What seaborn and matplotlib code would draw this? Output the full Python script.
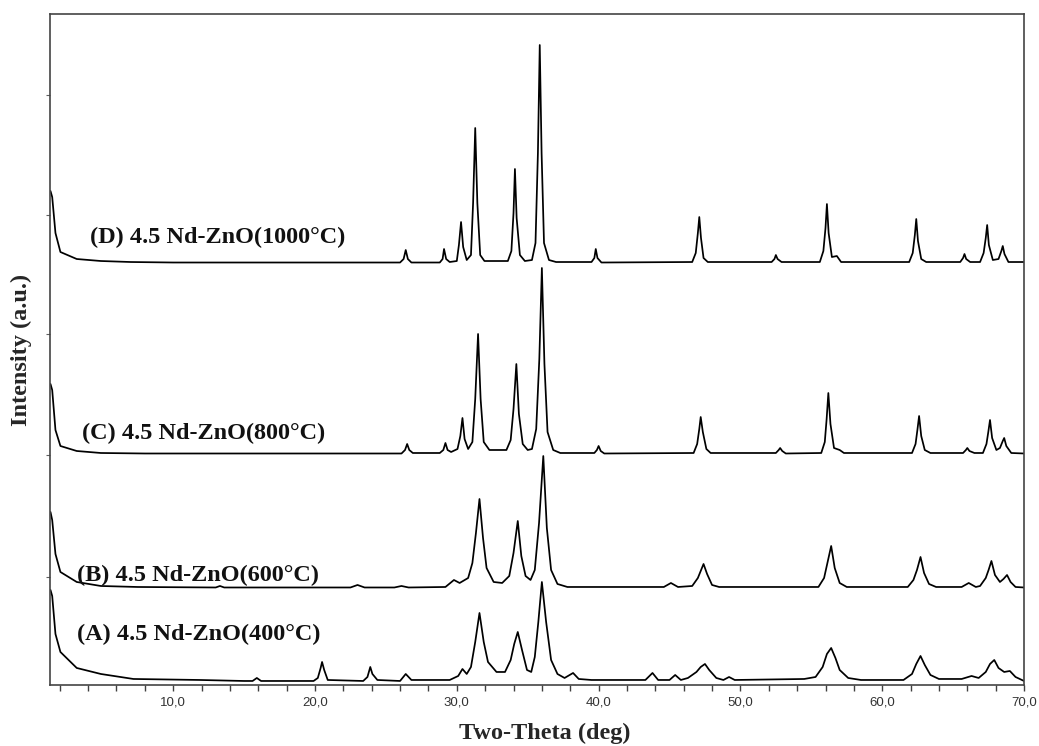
import numpy as np
import pandas as pd
import seaborn as sns
from matplotlib import pyplot as plt
from matplotlib.ticker import MultipleLocator, FuncFormatter

# traced XRD patterns: 2-theta (deg) and intensity above each trace's own baseline (a.u.)
tt_D = [1.35, 1.47, 1.7, 2.05, 3.2, 4.9, 7.0, 10, 26.0, 26.25, 26.4, 26.55, 26.8, 28.8, 29.0, 29.1, 29.25,
        29.5, 30.0, 30.15, 30.3, 30.45, 30.7, 31.0, 31.15, 31.3, 31.45, 31.65, 31.95, 33.6, 33.85, 34.0, 34.1,
        34.22, 34.45, 34.8, 35.3, 35.55, 35.72, 35.85, 35.98, 36.15, 36.5, 37.0, 39.5, 39.7, 39.8, 39.92, 40.2,
        46.6, 46.85, 47.0, 47.1, 47.22, 47.4, 47.7, 52.2, 52.4, 52.5, 52.62, 52.9, 55.6, 55.85, 56.0, 56.1,
        56.22, 56.45, 56.8, 57.1, 61.9, 62.15, 62.3, 62.4, 62.52, 62.75, 63.1, 65.5, 65.7, 65.8, 65.92, 66.2,
        66.9, 67.15, 67.3, 67.4, 67.52, 67.8, 68.2, 68.4, 68.5, 68.62, 68.9, 70.0]
int_D = [72, 66, 30, 11, 4, 2, 1, 0.5, 0.5, 4, 13, 4, 0.5, 0.5, 4, 14, 4,
         1, 2, 18, 41, 16, 3, 8, 60, 135, 60, 8, 2, 2, 12, 50, 94,
         45, 8, 2, 3, 20, 110, 218, 110, 20, 3, 1, 1, 5, 14, 5, 0.5,
         1, 10, 30, 46, 25, 5, 1, 1, 4, 8, 4, 1, 1, 12, 35, 59,
         30, 6, 7, 1, 1, 10, 28, 44, 22, 4, 1, 1, 5, 9, 4, 1,
         1, 10, 25, 38, 18, 3, 4, 12, 17, 9, 1, 1]

tt_C = [1.35, 1.47, 1.7, 2.05, 3.2, 4.9, 8, 26.1, 26.35, 26.5, 26.65, 26.9, 28.8, 29.05, 29.2, 29.35, 29.6,
        30.05, 30.25, 30.4, 30.55, 30.8, 31.1, 31.3, 31.5, 31.68, 31.9, 32.3, 33.5, 33.8, 34.0, 34.2, 34.38,
        34.65, 35.0, 35.3, 35.6, 35.82, 36.0, 36.18, 36.4, 36.8, 37.3, 39.7, 39.88, 40.0, 40.15, 40.4, 46.7,
        46.95, 47.1, 47.2, 47.35, 47.6, 47.9, 52.5, 52.7, 52.8, 52.95, 53.2, 55.7, 55.95, 56.08, 56.2, 56.35,
        56.6, 57.0, 57.3, 62.1, 62.35, 62.48, 62.6, 62.75, 63.0, 63.4, 65.7, 65.9, 66.0, 66.15, 66.5, 67.1,
        67.35, 67.48, 67.6, 67.75, 68.05, 68.3, 68.5, 68.6, 68.75, 69.1, 70.0]
int_C = [70, 64, 24, 8, 3, 1, 0.5, 0.5, 4, 10, 4, 1, 1, 4, 11, 4, 2,
         5, 18, 36, 15, 5, 12, 55, 120, 55, 12, 4, 4, 14, 45, 90, 40,
         10, 4, 5, 25, 95, 186, 90, 22, 4, 1, 1, 4, 8, 3, 0.5, 1,
         10, 25, 37, 22, 5, 1, 1, 4, 6, 3, 0.5, 1, 12, 35, 61, 30,
         6, 4, 1, 1, 10, 24, 38, 18, 4, 1, 1, 4, 6, 3, 1, 1,
         10, 22, 34, 16, 4, 6, 13, 16, 8, 1, 0.5]

tt_B = [1.35, 1.47, 1.7, 2.05, 3.2, 4.9, 7.5, 13.0, 13.3, 13.6, 22.5, 23.0, 23.5, 25.6, 26.1, 26.6, 29.2,
        29.8, 30.2, 30.8, 31.1, 31.35, 31.6, 31.85, 32.1, 32.6, 33.2, 33.7, 34.0, 34.3, 34.55, 34.85, 35.2,
        35.5, 35.8, 36.1, 36.35, 36.65, 37.1, 37.8, 44.6, 45.1, 45.6, 46.6, 47.0, 47.2, 47.4, 47.65, 48.0,
        48.5, 55.5, 55.9, 56.15, 56.4, 56.65, 57.0, 57.5, 61.8, 62.2, 62.45, 62.7, 62.95, 63.3, 63.8, 65.6,
        66.1, 66.6, 66.9, 67.3, 67.5, 67.7, 67.95, 68.3, 68.55, 68.8, 69.05, 69.4, 70.0]
int_B = [76, 68, 34, 16, 6, 2, 1, 0.5, 2, 0.5, 0.5, 3, 0.5, 0.5, 2, 0.5, 1,
         8, 5, 10, 25, 55, 89, 50, 20, 6, 5, 12, 35, 67, 32, 12, 8,
         18, 65, 132, 60, 18, 4, 1, 1, 5, 1, 2, 10, 17, 24, 14, 3,
         1, 1, 10, 26, 42, 20, 5, 1, 1, 8, 18, 31, 15, 4, 1, 1,
         5, 1, 2, 10, 18, 27, 13, 6, 9, 13, 6, 1, 0.5]

tt_A = [1.35, 1.47, 1.7, 2.05, 3.2, 4.9, 7.2, 11.9, 15.0, 15.6, 15.9, 16.2, 19.9, 20.2, 20.4, 20.5, 20.65,
        20.9, 23.4, 23.7, 23.9, 24.05, 24.4, 26.0, 26.4, 26.8, 29.5, 30.1, 30.4, 30.7, 31.0, 31.3, 31.6,
        31.9, 32.2, 32.8, 33.4, 33.8, 34.05, 34.3, 34.6, 34.95, 35.25, 35.5, 35.75, 36.0, 36.3, 36.65, 37.1,
        37.6, 38.2, 38.6, 39.5, 43.3, 43.8, 44.2, 45.0, 45.4, 45.8, 46.3, 46.9, 47.2, 47.5, 47.8, 48.3,
        48.8, 49.2, 49.6, 54.5, 55.3, 55.8, 56.1, 56.4, 56.7, 57.0, 57.6, 58.5, 61.5, 62.1, 62.4, 62.7,
        63.0, 63.4, 64.0, 65.6, 66.3, 66.8, 67.3, 67.6, 67.9, 68.2, 68.6, 69.0, 69.4, 70.0]
int_A = [92, 86, 48, 30, 14, 8, 3, 2, 1, 1, 4, 1, 1, 4, 14, 20, 12,
         2, 1, 5, 15, 8, 2, 1, 8, 2, 2, 6, 13, 8, 15, 40, 69,
         40, 20, 10, 10, 22, 38, 50, 32, 12, 10, 25, 60, 100, 60, 22, 8,
         4, 9, 3, 2, 2, 9, 2, 2, 7, 2, 4, 10, 15, 18, 12, 4,
         2, 5, 2, 3, 5, 15, 28, 34, 24, 12, 4, 2, 2, 8, 18, 26,
         17, 7, 3, 3, 6, 4, 10, 18, 22, 14, 10, 11, 5, 1]

samples = ['A', 'B', 'C', 'D']
labels = ['(A) 4.5 Nd-ZnO(400°C)', '(B) 4.5 Nd-ZnO(600°C)',
          '(C) 4.5 Nd-ZnO(800°C)', '(D) 4.5 Nd-ZnO(1000°C)']
offsets = [3, 97, 231, 422]
label_x = [3.2, 3.2, 3.6, 4.15]
label_y = [51, 110, 252, 448]

frames = []
for s, tt, it, off in zip(samples, [tt_A, tt_B, tt_C, tt_D], [int_A, int_B, int_C, int_D], offsets):
    frames.append(pd.DataFrame({'two_theta': tt, 'intensity': np.array(it) + off, 'sample': s}))
df = pd.concat(frames, ignore_index=True)

sns.set_style('ticks')
plt.rcParams['font.family'] = ['Liberation Sans', 'DejaVu Sans']

fig = plt.figure(figsize=(10.39, 7.46), dpi=100)
ax = fig.add_axes([0.0486, 0.0818, 0.937, 0.8994])

for s in samples:
    sns.lineplot(data=df[df['sample'] == s], x='two_theta', y='intensity', ax=ax,
                 color='black', linewidth=1.25, sort=False, estimator=None)

for lab, lx, ly in zip(labels, label_x, label_y):
    ax.text(lx, ly, lab, fontsize=17.5, fontweight='bold', family='Liberation Serif',
            va='center', ha='left', color='#111111')

ax.set_xlim(1.35, 70)
ax.set_ylim(0, 671)
ax.xaxis.set_major_locator(MultipleLocator(10))
ax.xaxis.set_minor_locator(MultipleLocator(2))
ax.xaxis.set_major_formatter(FuncFormatter(lambda v, p: f'{v:.1f}'.replace('.', ',')))
ax.set_yticks([108, 230, 351, 470, 590])
ax.set_yticklabels([])
ax.tick_params(axis='x', which='both', direction='out', length=4.5, width=1, color='#404040',
               labelsize=9.5, labelcolor='#333333', pad=4)
ax.tick_params(axis='y', direction='out', length=3, width=0.8, color='#606060')

for sp in ax.spines.values():
    sp.set_visible(True)
    sp.set_color('#444444')
    sp.set_linewidth(1.2)

ax.set_xlabel('Two-Theta (deg)', fontsize=17.5, fontweight='bold', family='Liberation Serif')
ax.set_ylabel('Intensity (a.u.)', fontsize=17.5, fontweight='bold', family='Liberation Serif')
ax.xaxis.set_label_coords(0.508, -0.056)
ax.yaxis.set_label_coords(-0.019, 0.5)

plt.savefig('out.png', dpi=100)
